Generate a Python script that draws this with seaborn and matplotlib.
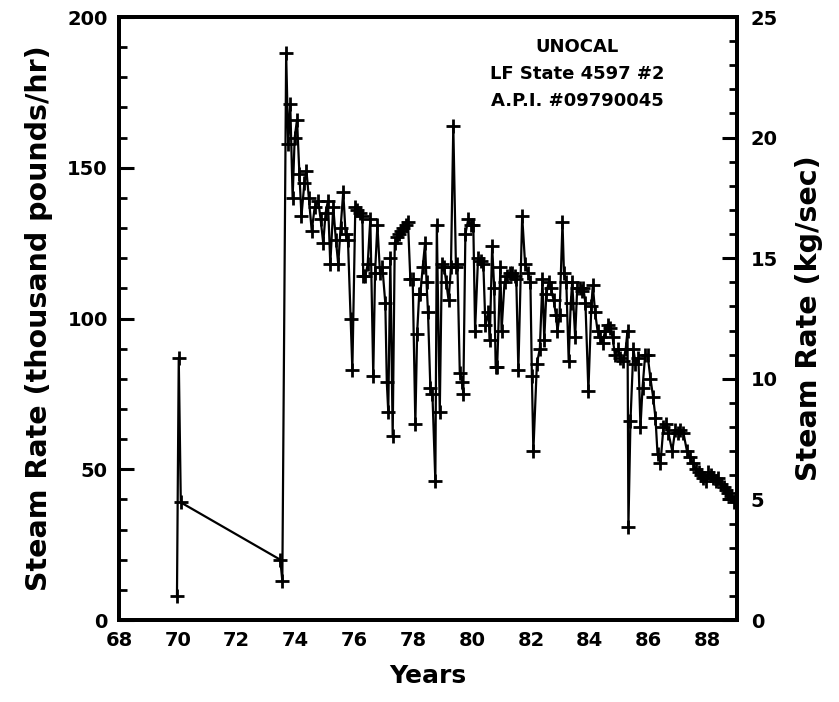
import numpy as np
import pandas as pd
import matplotlib
matplotlib.use("Agg")
import matplotlib.pyplot as plt
from matplotlib.ticker import MultipleLocator
import seaborn as sns

years = [69.97, 70.03, 70.10, 73.48, 73.55, 73.68, 73.75, 73.82, 73.90, 73.97,
         74.05, 74.13, 74.20, 74.30, 74.37, 74.45, 74.55, 74.65, 74.77, 74.85,
         74.94, 75.02, 75.10, 75.18, 75.28, 75.37, 75.45, 75.53, 75.62, 75.70,
         75.78, 75.87, 75.93, 76.03, 76.10, 76.20, 76.27, 76.30, 76.37, 76.45,
         76.54, 76.64, 76.70, 76.78, 76.87, 76.95, 77.05, 77.10, 77.15, 77.22,
         77.30, 77.37, 77.45, 77.50, 77.58, 77.66, 77.75, 77.82, 77.90, 77.98,
         78.07, 78.13, 78.20, 78.24, 78.32, 78.40, 78.45, 78.50, 78.58, 78.65,
         78.75, 78.80, 78.90, 78.97, 79.05, 79.12, 79.20, 79.28, 79.36, 79.45,
         79.50, 79.58, 79.66, 79.70, 79.77, 79.87, 79.95, 80.04, 80.10, 80.20,
         80.30, 80.38, 80.45, 80.55, 80.60, 80.68, 80.75, 80.80, 80.85, 80.96,
         81.00, 81.10, 81.20, 81.30, 81.37, 81.45, 81.50, 81.57, 81.70, 81.80,
         81.90, 81.98, 82.03, 82.08, 82.20, 82.30, 82.39, 82.45, 82.52, 82.60,
         82.68, 82.77, 82.85, 82.90, 82.97, 83.07, 83.12, 83.20, 83.28, 83.35,
         83.40, 83.50, 83.57, 83.65, 83.72, 83.78, 83.85, 83.95, 84.05, 84.10,
         84.18, 84.26, 84.35, 84.43, 84.52, 84.60, 84.68, 84.77, 84.85, 84.95,
         85.04, 85.14, 85.22, 85.28, 85.31, 85.38, 85.48, 85.55, 85.65, 85.72,
         85.79, 85.88, 85.96, 86.06, 86.15, 86.23, 86.30, 86.40, 86.50, 86.58,
         86.67, 86.80, 86.90, 86.98, 87.08, 87.18, 87.30, 87.40, 87.50, 87.60,
         87.70, 87.78, 87.86, 87.95, 88.03, 88.10, 88.20, 88.30, 88.34, 88.45,
         88.55, 88.63, 88.71, 88.80, 88.90]

steam = [8, 87, 39, 20, 13, 188, 158, 171, 140, 160,
         166, 148, 134, 145, 149, 140, 129, 137, 139, 133,
         125, 135, 139, 118, 137, 126, 118, 130, 142, 128,
         126, 100, 83, 137, 136, 135, 134, 114, 114, 118,
         133, 81, 115, 131, 115, 117, 105, 79, 69, 120,
         61, 125, 127, 128, 129, 130, 131, 132, 113, 113,
         65, 95, 108, 108, 117, 125, 112, 102, 77, 75,
         46, 131, 69, 118, 117, 112, 106, 117, 164, 117,
         118, 82, 79, 75, 128, 133, 131, 131, 96, 120,
         119, 118, 98, 102, 93, 124, 110, 84, 84, 117,
         96, 112, 114, 115, 115, 114, 113, 83, 134, 118,
         115, 112, 81, 56, 85, 90, 113, 93, 108, 112,
         110, 106, 101, 96, 101, 132, 115, 112, 86, 105,
         112, 94, 110, 110, 109, 110, 105, 76, 104, 111,
         102, 96, 94, 92, 96, 98, 97, 94, 88, 90,
         87, 86, 90, 96, 31, 66, 90, 85, 87, 64,
         77, 88, 88, 80, 74, 67, 55, 52, 64, 65,
         62, 56, 63, 62, 63, 62, 56, 54, 52, 50,
         49, 48, 47, 46, 49, 48, 47, 46, 47, 45,
         44, 43, 42, 41, 39]

x_ticks = [68, 70, 72, 74, 76, 78, 80, 82, 84, 86, 88]
left_ticks = [0, 50, 100, 150, 200]
right_ticks = [0, 5, 10, 15, 20, 25]
header = ["UNOCAL", "LF State 4597 #2", "A.P.I. #09790045"]

sns.set_theme(style="white")
plt.rcParams['font.family'] = ['DejaVu Sans']
plt.rcParams['font.weight'] = 'bold'
plt.rcParams['axes.labelcolor'] = 'black'
plt.rcParams['text.color'] = 'black'

df = pd.DataFrame({"Years": years, "Steam": steam})

fig = plt.figure(figsize=(8.39, 7.02), dpi=100)
ax = fig.add_axes([119/839, 1 - 620/702, (737-119)/839, (620-17)/702])

sns.lineplot(data=df, x="Years", y="Steam", sort=False, estimator=None,
             ax=ax, color="black", linewidth=1.6, marker="+",
             markersize=9.5, markeredgewidth=2.0, markeredgecolor="black")

ax.set_xlim(68, 89)
ax.set_ylim(0, 200)
ax.set_xticks(x_ticks)
ax.set_yticks(left_ticks)
ax.xaxis.set_minor_locator(MultipleLocator(1))
ax.yaxis.set_minor_locator(MultipleLocator(10))
ax.tick_params(which="major", direction="in", length=11, width=2.2,
               labelsize=14, pad=8, color="black", labelcolor="black")
ax.tick_params(which="minor", direction="in", length=6, width=2.0, color="black")
for s in ax.spines.values():
    s.set_linewidth(2.8)
    s.set_color("black")
ax.set_xlabel("Years", fontsize=18, fontweight="bold", labelpad=10, color="black")
ax.set_ylabel("Steam Rate (thousand pounds/hr)", fontsize=20.5,
              fontweight="bold", labelpad=10, color="black")

ax2 = ax.twinx()
ax2.set_ylim(0, 25)
ax2.set_yticks(right_ticks)
ax2.yaxis.set_minor_locator(MultipleLocator(1))
ax2.tick_params(which="major", direction="in", length=11, width=2.2,
                labelsize=14, pad=10, color="black", labelcolor="black")
ax2.tick_params(which="minor", direction="in", length=6, width=2.0, color="black")
for s in ax2.spines.values():
    s.set_linewidth(2.8)
    s.set_color("black")
ax2.set_ylabel("Steam Rate (kg/sec)", fontsize=20.5, fontweight="bold",
               labelpad=12, color="black")
ax2.grid(False)
ax.grid(False)

for i, t in enumerate(header):
    ax.text(0.741, 0.95 - i * 0.045, t, transform=ax.transAxes, ha="center",
            va="center", fontsize=13, fontweight="bold", color="black")

fig.savefig("out.png", dpi=100)
